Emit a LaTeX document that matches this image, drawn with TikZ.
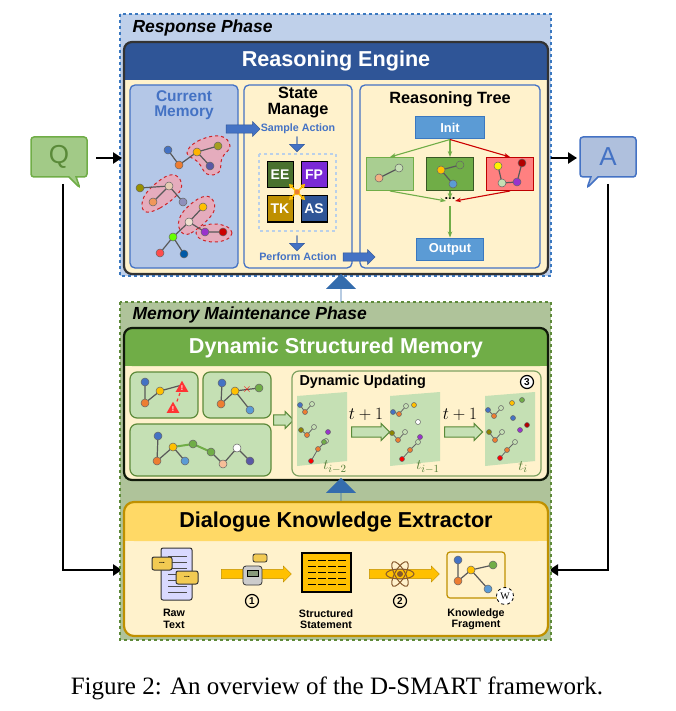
\documentclass[tikz,border=0pt]{standalone}
\usepackage{fontspec}
\setmainfont{Liberation Sans}
\newfontfamily\serf{Liberation Serif}
\usetikzlibrary{shapes.arrows,shapes.callouts,arrows.meta,shapes.geometric}
\definecolor{rpbg}{HTML}{BFD0EA}
\definecolor{rpbd}{HTML}{3A78C0}
\definecolor{hdblue}{HTML}{2F5597}
\definecolor{cream}{HTML}{FFF2CC}
\definecolor{memfill}{HTML}{B4C7E7}
\definecolor{midblue}{HTML}{4472C4}
\definecolor{mmbg}{HTML}{AFC39A}
\definecolor{mmbd}{HTML}{5E8A3A}
\definecolor{gr}{HTML}{70AD47}
\definecolor{lgr}{HTML}{C5E0B4}
\definecolor{dgr}{HTML}{385723}
\definecolor{gold}{HTML}{BF9000}
\definecolor{ylw}{HTML}{FFD966}
\definecolor{initb}{HTML}{5B9BD5}
\definecolor{nblue}{HTML}{4472C4}
\definecolor{norg}{HTML}{ED7D31}
\definecolor{nyel}{HTML}{FFC000}
\definecolor{npur}{HTML}{9933CC}
\definecolor{nred}{HTML}{E03030}
\tikzset{
 gn/.style={circle,draw=black!60,line width=0.5pt,inner sep=0pt,minimum size=8pt},
 ge/.style={draw=black!65,line width=1.2pt},
 panel/.style={draw=midblue,line width=1.3pt,rounded corners=5pt},
 bigtitle/.style={font=\bfseries\fontsize{21.6}{23}\selectfont},
 phase/.style={anchor=west,font=\bfseries\itshape\fontsize{17.5}{18}\selectfont},
 ptitle/.style={font=\bfseries\fontsize{16.3}{16}\selectfont,align=center},
 small/.style={font=\bfseries\fontsize{10.7}{11.5}\selectfont,align=center},
 barr/.style={single arrow,draw=hdblue,fill=midblue,inner xsep=0pt,inner ysep=3.5pt,minimum width=15pt,single arrow head extend=3pt,single arrow head indent=0pt},
 harr/.style={single arrow,draw=gr!80!black,fill=lgr,line width=1pt,inner xsep=0pt,inner ysep=4pt,minimum width=17pt,single arrow head extend=3pt},
 yarr/.style={single arrow,draw=gold,fill=nyel,inner xsep=0pt,inner ysep=4pt,minimum width=16pt,single arrow head extend=3pt},
 upar/.style={single arrow,shape border rotate=90,fill=rpbd!90!black,inner xsep=0pt,inner ysep=7pt,minimum width=30pt,single arrow head extend=8pt,minimum height=28pt},
 blk/.style={-{Triangle[width=11pt,length=9pt]},line width=2.4pt},
 blob/.style={fill=red!40!purple!35,draw=red!80!black,dashed,line width=1pt,opacity=0.8},
 tbox/.style={draw,line width=1pt,minimum width=47pt,minimum height=33pt,inner sep=0pt},
 tr/.style={-{Stealth[length=6pt]},line width=1.1pt},
 sq/.style={draw=black,line width=1pt,minimum size=26pt,inner sep=0pt,text=white,font=\bfseries\fontsize{14}{14}\selectfont},
 cnum/.style={circle,draw,line width=1.2pt,inner sep=0pt,minimum size=13pt,font=\bfseries\fontsize{10}{10}\selectfont},
 boxtxt/.style={text=white,font=\bfseries\fontsize{12.9}{13}\selectfont},
}
\begin{document}
\begin{tikzpicture}[x=1pt,y=-1pt]
\useasboundingbox (0,0) rectangle (675,711);
% ============ Response phase
\draw[rpbd,fill=rpbg,dashed,line width=1.2pt] (120,14) rectangle (551,276);
\node[phase] (rp) at (129,28) {Response Phase};
\draw[fill=cream,draw=none,rounded corners=8pt] (124,42) rectangle (548,274);
\fill[hdblue,rounded corners=8pt] (124,42) rectangle (548,80);
\fill[hdblue] (124,66) rectangle (548,80);
\draw[black!80,line width=2.2pt,rounded corners=8pt] (124,42) rectangle (548,274);
\node[bigtitle,text=white] (re) at (336,61) {Reasoning Engine};
% panels
\draw[panel,fill=memfill] (130,85) rectangle (238,268);
\draw[panel,fill=cream] (244,85) rectangle (352,268);
\draw[panel,fill=cream] (360,85) rectangle (540,268);
\node[ptitle,text=midblue,font=\bfseries\fontsize{15.5}{15}\selectfont] (cm) at (184,105) {Current\\Memory};
\node[ptitle] (sm) at (298,103) {State\\Manage};
\node[ptitle] (rt) at (450,99) {Reasoning Tree};
% current memory blobs
\draw[blob] plot[smooth cycle,tension=0.7] coordinates {(187,153) (198,141) (220,136) (230,146) (222,158) (219,172) (207,174) (198,162)};
\draw[blob] plot[smooth cycle,tension=0.7] coordinates {(144,211) (160,208) (180,191) (178,177) (165,177) (145,195)};
\draw[blob] plot[smooth cycle,tension=0.7] coordinates {(180,230) (191,233) (213,213) (211,198) (198,199) (181,215)};
\draw[blob] (214,233) ellipse (18pt and 9pt);
\coordinate (m1) at (168,150);\coordinate (m2) at (179,165);\coordinate (m3) at (197,152);
\coordinate (m4) at (218,146);\coordinate (m5) at (210,166);
\coordinate (m6) at (140,188);\coordinate (m7) at (169,186);\coordinate (m8) at (153,202);\coordinate (m9) at (183,202);
\coordinate (n1) at (203,207);\coordinate (n2) at (189,222);\coordinate (n3) at (205,232);\coordinate (n4) at (223,232);
\coordinate (n5) at (173,237);\coordinate (n6) at (160,253);\coordinate (n7) at (184,254);
\draw[ge] (m1)--(m2)--(m3)--(m4) (m3)--(m5) (m6)--(m7)--(m8) (m7)--(m9) (n1)--(n2)--(n3)--(n4) (n2)--(n5)--(n6) (n5)--(n7);
\foreach \p/\c in {m1/nblue,m2/norg,m3/nyel!80!orange,m4/olive!80,m5/blue!30!gray,m6/olive!90!yellow,m7/brown!40,m8/norg!80,m9/blue!25!gray!70,n1/nyel,n2/brown!25,n3/npur,n4/red!80!black,n5/green!60!yellow,n6/red!70,n7/teal!70!blue}
  \node[gn,fill=\c] at (\p) {};
% state manage
\node[barr,minimum height=34pt] (a1) at (241,129) {};
\node[small,text=midblue] (sa) at (298,129) {Sample Action};
\node[barr,shape border rotate=270,minimum height=15pt] (a2) at (297,144) {};
\draw[rpbd!35,dashed,line width=1.5pt] (259,154) rectangle (336,231);
\node[sq,fill=dgr!70!gr] (ee) at (280,175) {EE};
\node[sq,fill=npur!80!blue] (fp) at (314,175) {FP};
\node[sq,fill=gold] (tk) at (280,209) {TK};
\node[sq,fill=hdblue] (as) at (314,209) {AS};
\foreach \dx/\dy in {-1/-1,1/-1,-1/1,1/1}
  \draw[-{Triangle[length=4pt,width=5pt]},nyel,line width=1.5pt] (297,192) -- ++(\dx*8,\dy*8);
\node[circle,fill=norg,draw=nyel,inner sep=2pt] (ctr) at (297,192) {};
\node[barr,shape border rotate=270,minimum height=15pt] (a3) at (297,243) {};
\node[small,text=midblue] (pa) at (298,257) {Perform Action};
\node[barr,minimum height=32pt] (a4) at (357,257) {};
% reasoning tree
\node[draw=rpbd,fill=initb,line width=1pt,minimum width=69pt,minimum height=22pt,boxtxt] (init) at (450,128) {Init};
\node[draw=rpbd,fill=initb,line width=1pt,minimum width=67pt,minimum height=22pt,boxtxt] (out) at (450,249) {Output};
\node[tbox,draw=gr,fill=gr!60] (tl) at (390,174) {};
\node[tbox,draw=dgr,fill=gr] (tm) at (450,174) {};
\node[tbox,draw=red!75!black,fill=red!50] (trr) at (510,174) {};
\node[font=\bfseries\fontsize{13}{13}\selectfont] (dots) at (450,199) {...};
\draw[tr,gr] (init.south) -- (tl.north);
\draw[tr,gr] (init.south) -- (tm.north);
\draw[tr,red!80!black] (init.south) -- (trr.north);
\draw[tr,gr] (tl.south) -- (446,201);
\draw[tr,gr] (tm.south) -- (450,199);
\draw[tr,red!80!black] (trr.south) -- (455,201);
\draw[tr,gr] (450,206) -- (out.north);
\draw[ge] (379,178)--(399,168) (441,170)--(460,165) (441,170)--(453,184) (498,166)--(502,183)--(517,182)--(522,163);
\foreach \x/\y/\c in {379/178/norg!60,399/168/lgr,441/170/nyel,460/165/gr,453/184/initb,498/166/yellow,522/163/red!70!black,502/183/lgr,517/182/npur}
  \node[gn,fill=\c] at (\x,\y) {};
% ============ Q and A
\node[rectangle callout,draw=gr,fill=gr!65,line width=1.5pt,rounded corners=3pt,minimum width=56pt,minimum height=40pt,callout absolute pointer={(80,188)},text=gr!80!black,font=\fontsize{26}{26}\selectfont] (q) at (59,157) {Q};
\node[rectangle callout,draw=midblue,fill=memfill!90!gray,line width=1.5pt,rounded corners=3pt,minimum width=56pt,minimum height=40pt,callout absolute pointer={(587,188)},text=midblue,font=\fontsize{26}{26}\selectfont] (a) at (608,157) {A};
\coordinate (rpl) at (122,158);\coordinate (rpr) at (551,158);
\draw[blk] (96,158) -- (rpl);
\draw[blk] (rpr) -- (577,158);
\coordinate (ql) at (122,570);\coordinate (qr) at (549,570);
\draw[blk] (63,184) |- (ql);
\draw[blk] (608,184) |- (qr);
% ============ Memory maintenance phase
\draw[mmbd,fill=mmbg,dashed,line width=1.2pt] (120,302) rectangle (551,640);
\node[phase] (mm) at (129,315) {Memory Maintenance Phase};
\node[upar] (up1) at (341,288) {};
\draw[fill=cream,draw=none,rounded corners=8pt] (124,328) rectangle (548,480);
\fill[gr,rounded corners=8pt] (124,328) rectangle (548,366);
\fill[gr] (124,352) rectangle (548,366);
\draw[black!70!dgr,line width=2.2pt,rounded corners=8pt] (124,328) rectangle (548,480);
\node[bigtitle,text=white] (dsm) at (336,348) {Dynamic Structured Memory};
\draw[mmbd,fill=lgr,line width=1.2pt,rounded corners=7pt] (130,372) rectangle (198,418);
\draw[mmbd,fill=lgr,line width=1.2pt,rounded corners=7pt] (203,372) rectangle (271,418);
\draw[mmbd,fill=lgr,line width=1.2pt,rounded corners=7pt] (130,424) rectangle (271,476);
\draw[ge] (145,382)--(145,403)--(160,391)--(182,385) (235,391)--(259,388) (222,383)--(221,404)--(235,391)--(250,410);
\draw[red!80,dashed,line width=1.2pt] (180,393)--(176,404);
\foreach \x/\y in {182/388,173/409}
  \node[isosceles triangle,shape border rotate=90,fill=red!80,minimum size=11pt,inner sep=0pt,isosceles triangle apex angle=60,text=white,font=\bfseries\fontsize{7}{7}\selectfont] at (\x,\y) {!};
\node[text=red,font=\bfseries\fontsize{13}{13}\selectfont] at (247,389) {$\times$};
\foreach \x/\y/\c in {145/382/nblue,160/391/nyel,145/403/norg,222/383/nblue,235/391/nyel,221/404/norg,259/388/gr,250/410/initb}
  \node[gn,fill=\c] at (\x,\y) {};
\draw[ge] (158,436)--(157,461)--(173,447)--(185,461) (223,464)--(237,448)--(250,461) (223,464)--(211,452);
\draw[gr,line width=2pt] (173,447)--(193,444)--(211,452);
\foreach \x/\y/\c in {158/436/nblue,173/447/nyel,157/461/norg,185/461/initb,193/444/gr,211/452/gr,237/448/white,223/464/norg!50,250/461/blue!30!gray}
  \node[gn,fill=\c] at (\x,\y) {};
\node[harr,minimum height=20pt] (ha0) at (281,420) {};
\draw[mmbd!80,fill=cream,line width=1.2pt,rounded corners=7pt] (292,371) rectangle (541,476);
\node[anchor=west,font=\bfseries\fontsize{14.4}{14}\selectfont] (du) at (296,382) {Dynamic Updating};
\node[cnum,fill=white] (n3c) at (527,382) {3};
\foreach \x/\lab in {297/{i-2},390/{i-1},485/{i}} {
  \fill[lgr] (\x,396) -- (\x+50,392) -- (\x+50,461) -- (\x,466) -- cycle;
  \node[text=gr!70!black,font=\fontsize{15}{15}\selectfont] at (\x+38,467) {$t_{\lab}$};
}
\foreach \x/\y/\c/\u/\v/\d in {
  300/405/nblue/305/412/312,301/430/olive/307/435/314,311/461/red/318/449/326,
  393/412/nblue/399/414/406,392/433/olive/398/440/405,402/459/red/410/450/418,
  488/410/nblue/494/416/501,489/432/olive/495/440/502,500/458/red/507/450/515}
  { \draw[black!60,line width=0.8pt] (\x,\y) -- (\u,\v) -- (\d,\v-8);
    \node[gn,minimum size=5pt,fill=\c] at (\x,\y) {};
    \node[gn,minimum size=5pt,fill=norg] at (\u,\v) {};
    \node[gn,minimum size=5pt,fill=lgr] at (\d,\v-8) {}; }
\foreach \x/\y/\c in {324/442/gr,328/432/npur,414/405/nyel,420/437/npur,418/422/white,512/403/nyel,522/400/gr,520/430/npur,527/425/red!70!black,513/418/nblue}
  \node[gn,minimum size=5pt,fill=\c] at (\x,\y) {};
\node[font=\bfseries\fontsize{16}{16}\selectfont] (tp1) at (366,414) {$t+1$};
\node[font=\bfseries\fontsize{16}{16}\selectfont] (tp2) at (460,414) {$t+1$};
\node[harr,minimum height=38pt] (ha1) at (368,432) {};
\node[harr,minimum height=38pt] (ha2) at (461,432) {};
\node[upar] (up2) at (341,492) {};
% ============ Dialogue Knowledge Extractor
\draw[fill=cream,draw=none,rounded corners=10pt] (124,502) rectangle (548,636);
\fill[ylw,rounded corners=10pt] (124,502) rectangle (548,541);
\fill[ylw] (124,525) rectangle (548,541);
\draw[gold,line width=2.2pt,rounded corners=10pt] (124,502) rectangle (548,636);
\node[bigtitle] (dke) at (336,522) {Dialogue Knowledge Extractor};
\node[yarr,minimum height=70pt] (y1) at (254,574) {};
\node[yarr,minimum height=70pt] (y2) at (402,574) {};
% raw text icon
\draw[black!80,fill=blue!15,line width=1pt,rounded corners=2pt] (161,548) rectangle (192,600);
\foreach \y in {556,562,568,574,580,586,592} \draw[black!70,line width=0.8pt] (168,\y)--(187,\y);
\draw[black!80,fill=ylw!80!gold,line width=1pt,rounded corners=2pt] (152,557) rectangle (172,570);
\draw[black!80,fill=ylw!80!gold,line width=1pt,rounded corners=2pt] (176,571) rectangle (198,584);
\node[font=\bfseries\fontsize{7}{7}\selectfont] at (162,563) {...};
\node[font=\bfseries\fontsize{7}{7}\selectfont] at (187,577) {...};
\node[small] (raw) at (174,619) {Raw\\Text};
% robot
\draw[black!80,fill=gray!40,line width=0.8pt,rounded corners=3pt] (243,566) rectangle (262,585);
\draw[fill=dgr!60,draw=black] (247,570) rectangle (258,576);
\draw[black!80,fill=ylw!80!gold,line width=0.8pt,rounded corners=2pt] (253,554) rectangle (267,562);
\node[cnum] (c1) at (252,601) {1};
% statement
\draw[black,fill=nyel,line width=1.5pt] (302,553) rectangle (351,592);
\foreach \y in {560,566,572,578,584} \draw[black,line width=1pt,dash pattern=on 8pt off 2pt] (308,\y)--(346,\y);
\node[small] (ss) at (326,619) {Structured\\Statement};
% atom
\foreach \r in {0,60,120} \draw[brown!70!black,line width=1pt,rotate around={\r:(400,574)}] (400,574) ellipse (14pt and 5pt);
\fill[brown!70!black] (400,574) circle (3pt);
\node[cnum] (c2) at (400,601) {2};
% knowledge fragment
\draw[gold,fill=cream,line width=1.2pt,rounded corners=3pt] (447,552) rectangle (505,598);
\draw[ge] (458,560)--(458,581)--(471,570)--(493,565) (471,570)--(488,589);
\foreach \x/\y/\c in {458/560/nblue,471/570/nyel,458/581/norg,493/565/gr,488/589/initb}
  \node[gn,fill=\c] at (\x,\y) {};
\node[circle,draw,dashed,fill=white,line width=0.8pt,minimum size=17pt,inner sep=0pt,font=\serf\fontsize{10}{10}\selectfont] (wk) at (505,596) {W};
\node[small] (kf) at (476,619) {Knowledge\\Fragment};
% caption
\node[font=\serf\fontsize{25}{25}\selectfont] (cap) at (337,688) {Figure 2: An overview of the D-SMART framework.};
\end{tikzpicture}
\end{document}
